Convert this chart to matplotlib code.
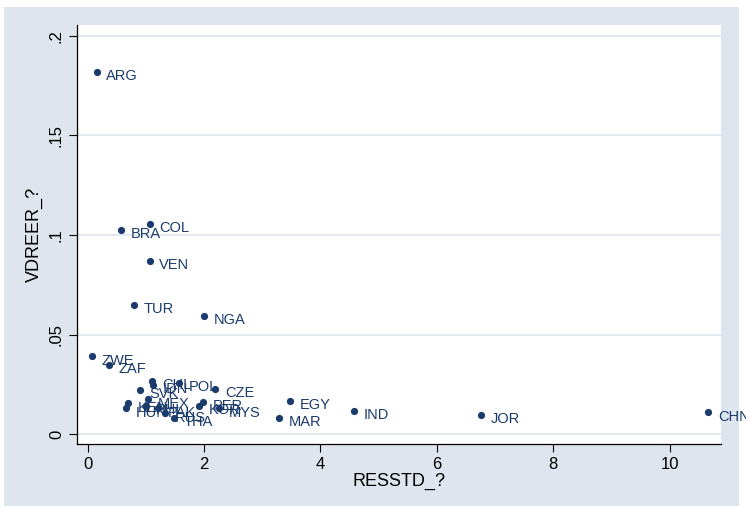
import matplotlib
matplotlib.use('Agg')
from matplotlib import pyplot as plt
from matplotlib.patches import Rectangle

# country codes and values
countries = ['ARG', 'COL', 'BRA', 'VEN', 'TUR', 'NGA', 'ZWE', 'ZAF',
             'CHL', 'IDN', 'POL', 'CZE', 'SVK', 'MEX', 'KEN', 'HUN',
             'PHL', 'PAK', 'RUS', 'THA', 'KOR', 'PER', 'MYS',
             'EGY', 'IND', 'MAR', 'JOR', 'CHN']
resstd = [0.155, 1.07, 0.57, 1.065, 0.80, 2.00, 0.074, 0.37,
          1.11, 1.13, 1.57, 2.19, 0.90, 1.04, 0.69, 0.665,
          1.00, 1.21, 1.33, 1.49, 1.92, 1.98, 2.26,
          3.48, 4.58, 3.29, 6.76, 10.66]
vdreer = [0.182, 0.1055, 0.1025, 0.0869, 0.065, 0.0593, 0.039, 0.0347,
          0.0266, 0.0246, 0.0255, 0.0225, 0.0221, 0.0174, 0.0154, 0.0129,
          0.0141, 0.0129, 0.0104, 0.0082, 0.0142, 0.0162, 0.0129,
          0.0166, 0.0117, 0.0079, 0.0095, 0.0109]

x_ticks = [0, 2, 4, 6, 8, 10]
y_ticks = [0, 0.05, 0.1, 0.15, 0.2]
y_tick_labels = ['0', '.05', '.1', '.15', '.2']

navy = '#1A3B6C'
plt.rcParams['font.family'] = ['Liberation Sans', 'DejaVu Sans']

fig = plt.figure(figsize=(7.46, 5.08), dpi=100)
fig.patch.set_facecolor('white')
# bluish gray graph region, behind the axes
fig.patches.append(Rectangle((4 / 746, 2 / 508), 735 / 746, 499 / 508,
                             transform=fig.transFigure, facecolor='#DFE5EE',
                             edgecolor='none', zorder=-10))

ax = fig.add_axes([76.5 / 746, 64 / 508, 644.5 / 746, 419 / 508])
ax.set_facecolor('white')
ax.scatter(resstd, vdreer, s=27, color=navy, zorder=3, linewidths=0)
for name, xv, yv in zip(countries, resstd, vdreer):
    ax.annotate(name, (xv, yv), xytext=(7, -3), textcoords='offset points',
                ha='left', va='center', fontsize=10.5, color=navy,
                annotation_clip=False)

ax.set_xlim(-0.19, 10.88)
ax.set_ylim(-0.005, 0.2055)
ax.set_xticks(x_ticks)
ax.set_yticks(y_ticks)
ax.set_yticklabels(y_tick_labels, rotation=90, va='center')
ax.tick_params(axis='both', length=6, width=0.8, labelsize=12, color='black')
ax.tick_params(axis='x', pad=3.5)
ax.tick_params(axis='y', pad=3)

ax.grid(axis='y', color='#E2E7F0', linewidth=1.3)
ax.set_axisbelow(True)
for side in ['top', 'right']:
    ax.spines[side].set_visible(False)
for side in ['left', 'bottom']:
    ax.spines[side].set_linewidth(0.9)

fig.text(399.5 / 746, 1 - 481 / 508, 'RESSTD_?', ha='center', va='center', fontsize=13)
fig.text(34 / 746, 1 - 234.5 / 508, 'VDREER_?', ha='center', va='center',
         rotation=90, fontsize=13)

plt.savefig('out.png', dpi=100)
